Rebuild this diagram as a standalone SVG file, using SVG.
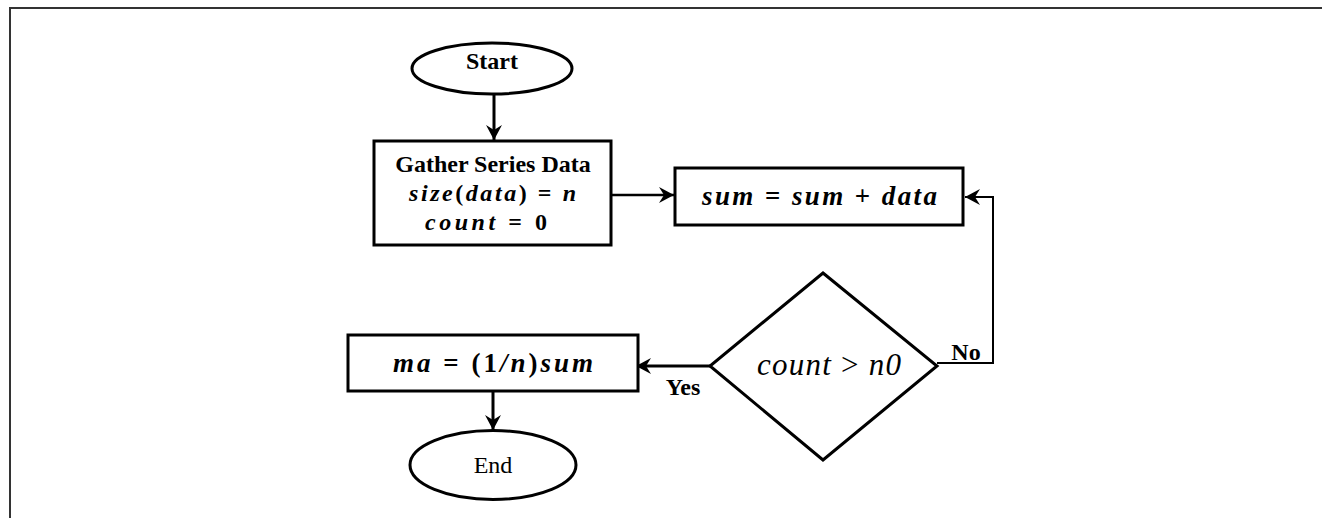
<svg xmlns="http://www.w3.org/2000/svg" width="1322" height="518" viewBox="0 0 1322 518">
<defs>
<style>
.shape{fill:#fff;stroke:#000;stroke-width:3}
.conn{fill:none;stroke:#000;stroke-width:3}
.thin{fill:none;stroke:#000;stroke-width:2}
.lbl{font-family:"Liberation Serif","Times New Roman",serif;font-size:24px;font-weight:bold;fill:#000;text-anchor:middle}
.reg{font-family:"Liberation Serif","Times New Roman",serif;font-size:24px;fill:#000;text-anchor:middle}
.math{font-family:"Liberation Serif","Times New Roman",serif;font-size:27px;font-weight:bold;font-style:italic;fill:#000}
.sm{font-size:24px}
.mathr{font-family:"Liberation Serif","Times New Roman",serif;font-size:31px;font-style:italic;fill:#000}
.up{font-style:normal}
</style>
<marker id="arr" markerUnits="userSpaceOnUse" markerWidth="18" markerHeight="18" viewBox="-16 -9 18 18" refX="0" refY="0" orient="auto">
<path d="M0,0 L-15,-8 L-10,0 L-15,8 Z" fill="#000"/>
</marker>
</defs>
<rect width="1322" height="518" fill="#fff"/>
<path d="M10,518 V8 H1322" fill="none" stroke="#333" stroke-width="2"/>
<g id="connectors">
<path class="conn" d="M494,94 V140" marker-end="url(#arr)"/>
<path class="conn" d="M611,195 H674" marker-end="url(#arr)" style="stroke-width:2.5"/>
<path class="thin" d="M937,363 H993 V197 H965" marker-end="url(#arr)"/>
<path class="conn" d="M710,366 H636" marker-end="url(#arr)"/>
<path class="conn" d="M493,385 V430" marker-end="url(#arr)"/>
<text class="lbl" x="966" y="360">No</text>
<text class="lbl" x="683" y="395">Yes</text>
</g>
<g id="start">
<ellipse class="shape" cx="492" cy="68.5" rx="80" ry="25.5"/>
<text class="lbl" x="492" y="69">Start</text>
</g>
<g id="gather">
<rect class="shape" x="374" y="141" width="237" height="104"/>
<text class="lbl" x="493" y="172">Gather Series Data</text>
<text class="math sm" x="409" y="201" textLength="167">size<tspan class="up">(</tspan>data<tspan class="up">) = </tspan>n</text>
<text class="math sm" x="425" y="230" textLength="122">count <tspan class="up">= 0</tspan></text>
</g>
<g id="sum">
<rect class="shape" x="675" y="168" width="288" height="57"/>
<text class="math" x="702" y="205" textLength="235">sum <tspan class="up">=</tspan> sum <tspan class="up">+</tspan> data</text>
</g>
<g id="decision">
<polygon class="shape" points="823,273 937,366 823,460 710,366"/>
<text class="mathr" x="757" y="375" textLength="144">count <tspan class="up">&gt;</tspan> n0</text>
</g>
<g id="ma">
<rect class="shape" x="348" y="335" width="290" height="56"/>
<text class="math" x="393" y="372" textLength="200">ma <tspan class="up">= (1</tspan>/n<tspan class="up">)</tspan>sum</text>
</g>
<g id="end">
<ellipse class="shape" cx="493" cy="465" rx="83" ry="34.5"/>
<text class="reg" x="493" y="473">End</text>
</g>
</svg>
